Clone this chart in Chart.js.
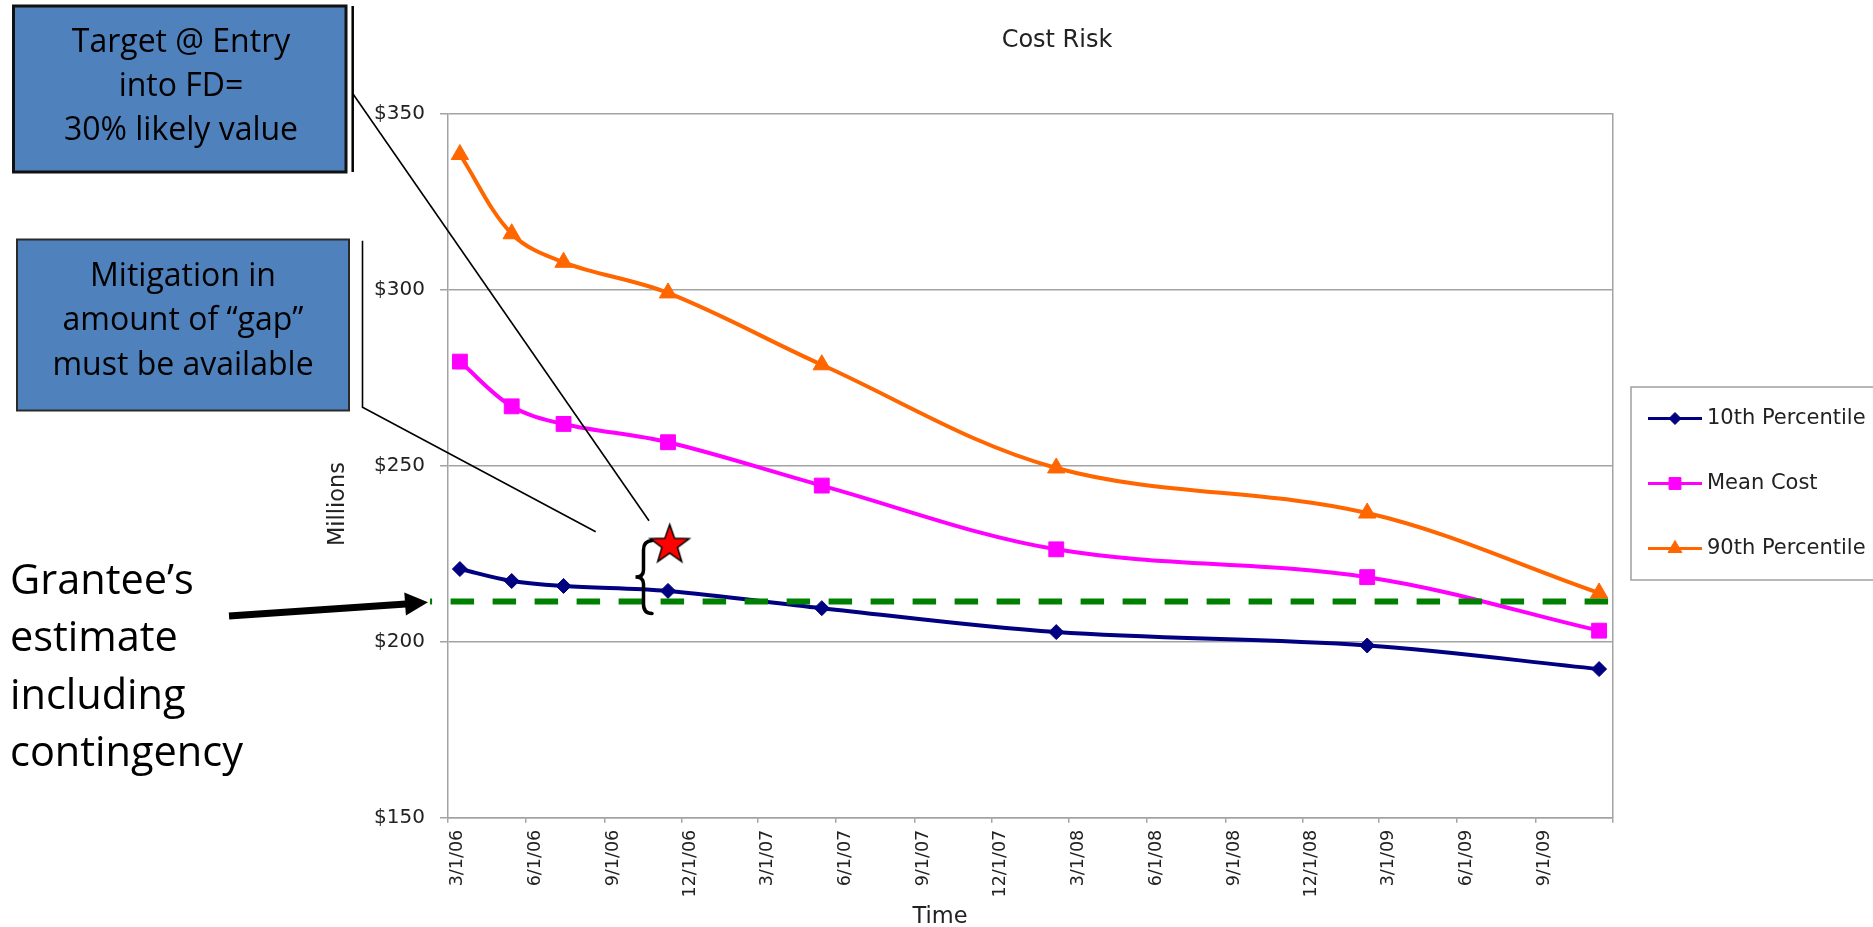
<!DOCTYPE html>
<html lang="en">
<head>
<meta charset="utf-8">
<title>Cost Risk</title>
<script src="https://cdn.jsdelivr.net/npm/chart.js@4.4.1/dist/chart.umd.min.js"></script>
<style>
  html, body { margin: 0; padding: 0; background: #ffffff; overflow: hidden; }
  #chart { display: block; }
</style>
</head>
<body>
<canvas id="chart" width="1873" height="927"></canvas>
<script>
// Dates of each cost-risk estimate and the resulting cost percentiles ($ millions)
const estimateDates = ['2006-03-15', '2006-05-15', '2006-07-15', '2006-11-15', '2007-05-15', '2008-02-15', '2009-02-15', '2009-11-15'];
const tenthPercentile = [220.6, 217.2, 215.8, 214.4, 209.5, 202.7, 198.9, 192.2];
const meanCost = [279.5, 266.8, 261.8, 256.6, 244.3, 226.2, 218.3, 203.1];
const ninetiethPercentile = [338.3, 315.8, 307.7, 299.0, 278.6, 249.3, 236.5, 213.8];
const seriesNames = ['10th Percentile', 'Mean Cost', '90th Percentile'];

// Quarterly time axis; the axis ends on 12/1/09, which carries no label
const tickDates = ['2006-03-01', '2006-06-01', '2006-09-01', '2006-12-01', '2007-03-01', '2007-06-01', '2007-09-01', '2007-12-01',
                   '2008-03-01', '2008-06-01', '2008-09-01', '2008-12-01', '2009-03-01', '2009-06-01', '2009-09-01', '2009-12-01'];
const tickLabels = ['3/1/06', '6/1/06', '9/1/06', '12/1/06', '3/1/07', '6/1/07', '9/1/07', '12/1/07',
                    '3/1/08', '6/1/08', '9/1/08', '12/1/08', '3/1/09', '6/1/09', '9/1/09', ''];
const costTicks = [150, 200, 250, 300, 350];

// Grantee's estimate (incl. contingency) and the 30% likely target at entry into FD
const granteeEstimate = 211.4;
const targetDate = '2006-11-17';
const targetValue = 228.0;

// Callout texts
const targetNote = ['Target @ Entry', 'into FD=', '30% likely value'];
const gapNote = ['Mitigation in', 'amount of \u201Cgap\u201D', 'must be available'];
const estimateNote = ['Grantee\u2019s', 'estimate', 'including', 'contingency'];

const AXIS_FONT = '"DejaVu Sans", Verdana, sans-serif';
const NOTE_FONT = '"Open Sans", "Noto Sans", sans-serif';
const TEXT_COLOR = '#222222';
const GRID_COLOR = '#a3a3a3';

const dayOf = iso => (Date.parse(iso) - Date.parse(tickDates[0])) / 864e5;
const toPoints = values => estimateDates.map((d, i) => ({ x: dayOf(d), y: values[i] }));

// Red five-pointed star used as the marker of the target value
function starImage(R, innerRatio) {
  const pad = 3;
  const size = Math.ceil(2 * R + 2 * pad);
  const c = document.createElement('canvas');
  c.width = size; c.height = size;
  const g = c.getContext('2d');
  const cx = size / 2, cy = size / 2 + R * 0.095;
  g.beginPath();
  for (let k = 0; k < 10; k++) {
    const r = k % 2 ? R * innerRatio : R;
    const a = -Math.PI / 2 + k * Math.PI / 5;
    const px = cx + r * Math.cos(a), py = cy + r * Math.sin(a);
    if (k) g.lineTo(px, py); else g.moveTo(px, py);
  }
  g.closePath();
  g.fillStyle = '#FF0000';
  g.fill();
  g.lineWidth = 1.5;
  g.strokeStyle = '#000000';
  g.stroke();
  return c;
}

function noteBox(ctx, x, y, w, h, borderColor, borderWidth) {
  ctx.fillStyle = '#4F81BD';
  ctx.fillRect(x, y, w, h);
  ctx.strokeStyle = borderColor;
  ctx.lineWidth = borderWidth;
  ctx.strokeRect(x, y, w, h);
}

function line(ctx, pts, width, color) {
  ctx.strokeStyle = color;
  ctx.lineWidth = width;
  ctx.beginPath();
  pts.forEach((p, i) => i ? ctx.lineTo(p[0], p[1]) : ctx.moveTo(p[0], p[1]));
  ctx.stroke();
}

const decorations = {
  id: 'decorations',
  afterDatasetsDraw(chart) {
    const { ctx, chartArea, scales } = chart;
    const gy = scales.y.getPixelForValue(granteeEstimate);
    ctx.save();
    ctx.strokeStyle = '#008000';
    ctx.lineWidth = 6;
    ctx.setLineDash([23.5, 18.5]);
    ctx.lineDashOffset = 21.4;
    ctx.beginPath();
    ctx.moveTo(430, gy);
    ctx.lineTo(chartArea.right - 4.5, gy);
    ctx.stroke();
    ctx.restore();
  },
  afterDraw(chart) {
    const { ctx } = chart;
    ctx.save();

    // Chart title and axis titles
    ctx.fillStyle = TEXT_COLOR;
    ctx.textAlign = 'center';
    ctx.textBaseline = 'middle';
    ctx.font = '24px ' + AXIS_FONT;
    ctx.fillText('Cost Risk', 1057, 40.5);
    ctx.font = '22.5px ' + AXIS_FONT;
    ctx.fillText('Time', 940, 917);
    ctx.save();
    ctx.translate(338, 504);
    ctx.rotate(-Math.PI / 2);
    ctx.fillText('Millions', 0, 0);
    ctx.restore();

    // Legend
    ctx.strokeStyle = '#a0a0a0';
    ctx.lineWidth = 1.5;
    ctx.strokeRect(1631, 387, 262, 193);
    chart.data.datasets.slice(0, 3).forEach((ds, i) => {
      const yy = 418.5 + i * 65;
      line(ctx, [[1648, yy], [1702, yy]], 3, ds.borderColor);
      ctx.fillStyle = ds.backgroundColor;
      ctx.strokeStyle = ds.borderColor;
      ctx.lineWidth = 1;
      Chart.helpers.drawPoint(ctx, { pointStyle: ds.pointStyle, radius: ds.pointRadius * 0.8, rotation: 0, borderWidth: 1 }, 1675, yy);
      ctx.fillStyle = TEXT_COLOR;
      ctx.font = '21px ' + AXIS_FONT;
      ctx.textAlign = 'left';
      ctx.textBaseline = 'middle';
      ctx.fillText(ds.label, 1707, yy);
    });

    // Callout boxes
    noteBox(ctx, 13.5, 6, 332.5, 166, '#111111', 3);
    noteBox(ctx, 17, 239.5, 332, 171, '#2a2a2a', 2);
    ctx.fillStyle = '#000000';
    ctx.textAlign = 'center';
    ctx.textBaseline = 'alphabetic';
    ctx.font = '32px ' + NOTE_FONT;
    targetNote.forEach((t, i) => ctx.fillText(t, 181, 51.5 + i * 44));
    gapNote.forEach((t, i) => ctx.fillText(t, 183, 285.5 + i * 44.5));

    // Callout leader lines with accent bars
    line(ctx, [[352.7, 6], [352.7, 172]], 2.5, '#000000');
    line(ctx, [[352.7, 93.5], [649, 520.7]], 1.6, '#000000');
    line(ctx, [[362.5, 240.7], [362.5, 407.3], [595.7, 531.7]], 1.6, '#000000');

    // Brace spanning the gap between estimate and target
    ctx.strokeStyle = '#000000';
    ctx.lineWidth = 3.5;
    ctx.lineCap = 'round';
    ctx.beginPath();
    ctx.moveTo(652, 540.5);
    ctx.quadraticCurveTo(643.5, 541, 643.5, 550);
    ctx.lineTo(643.5, 570);
    ctx.quadraticCurveTo(643.5, 577, 635.5, 577);
    ctx.quadraticCurveTo(643.5, 577, 643.5, 584);
    ctx.lineTo(643.5, 604);
    ctx.quadraticCurveTo(643.5, 613.5, 652, 613.5);
    ctx.stroke();
    ctx.lineCap = 'butt';

    // Arrow pointing at the estimate line
    line(ctx, [[229, 616], [406, 603.9]], 7, '#000000');
    ctx.fillStyle = '#000000';
    ctx.beginPath();
    ctx.moveTo(428, 602.3);
    ctx.lineTo(405.9, 615.4);
    ctx.lineTo(404.3, 592.4);
    ctx.closePath();
    ctx.fill();

    // Estimate note
    ctx.textAlign = 'left';
    ctx.font = '41.5px ' + NOTE_FONT;
    estimateNote.forEach((t, i) => ctx.fillText(t, 10, 594 + i * 57.3));

    ctx.restore();
  }
};

const series = (label, values, color, style, radius) => ({
  label, data: toPoints(values),
  borderColor: color, backgroundColor: color,
  borderWidth: 4, tension: 0.35,
  pointStyle: style, pointRadius: radius, pointBorderWidth: 1,
  pointBackgroundColor: color, pointBorderColor: color
});

new Chart(document.getElementById('chart'), {
  type: 'line',
  data: {
    datasets: [
      series(seriesNames[0], tenthPercentile, '#000080', 'rectRot', 7.5),
      series(seriesNames[1], meanCost, '#FF00FF', 'rect', 10.5),
      series(seriesNames[2], ninetiethPercentile, '#FF6600', 'triangle', 10),
      {
        label: 'Target @ Entry',
        data: [{ x: dayOf(targetDate), y: targetValue }],
        showLine: false,
        pointStyle: starImage(20.5, 0.4),
        pointRadius: 20,
        borderColor: '#000000',
        backgroundColor: '#FF0000'
      }
    ]
  },
  options: {
    responsive: false,
    animation: false,
    devicePixelRatio: 1,
    layout: { padding: { left: 300, right: 260.3, top: 113.3, bottom: 0 } },
    plugins: {
      legend: { display: false },
      title: { display: false },
      tooltip: { enabled: false }
    },
    scales: {
      x: {
        type: 'linear',
        min: 0,
        max: dayOf(tickDates[tickDates.length - 1]),
        afterBuildTicks: s => { s.ticks = tickDates.map(d => ({ value: dayOf(d) })); },
        afterFit: s => { s.height = 109.3; },
        grid: { drawOnChartArea: false, drawTicks: true, tickLength: 5, color: GRID_COLOR, lineWidth: 1.5 },
        border: { display: true, color: GRID_COLOR, width: 1.5 },
        ticks: {
          autoSkip: false, minRotation: 90, maxRotation: 90,
          padding: 7, labelOffset: 9,
          color: TEXT_COLOR, font: { family: AXIS_FONT, size: 17.6 },
          callback: (v, i) => tickLabels[i]
        }
      },
      y: {
        min: costTicks[0],
        max: costTicks[costTicks.length - 1],
        afterBuildTicks: s => { s.ticks = costTicks.map(v => ({ value: v })); },
        afterFit: s => { s.width = 148; },
        grid: { color: GRID_COLOR, lineWidth: 1.5, tickLength: 8, drawTicks: true },
        border: { color: GRID_COLOR, width: 1.5 },
        ticks: { padding: 15, color: TEXT_COLOR, font: { family: AXIS_FONT, size: 20 }, callback: v => '$' + v }
      },
      yRight: {
        position: 'right',
        min: costTicks[0],
        max: costTicks[costTicks.length - 1],
        afterFit: s => { s.width = 0; },
        ticks: { display: false },
        grid: { display: false, drawTicks: false },
        border: { display: true, color: GRID_COLOR, width: 1.5 }
      }
    }
  },
  plugins: [decorations]
});
</script>
</body>
</html>
